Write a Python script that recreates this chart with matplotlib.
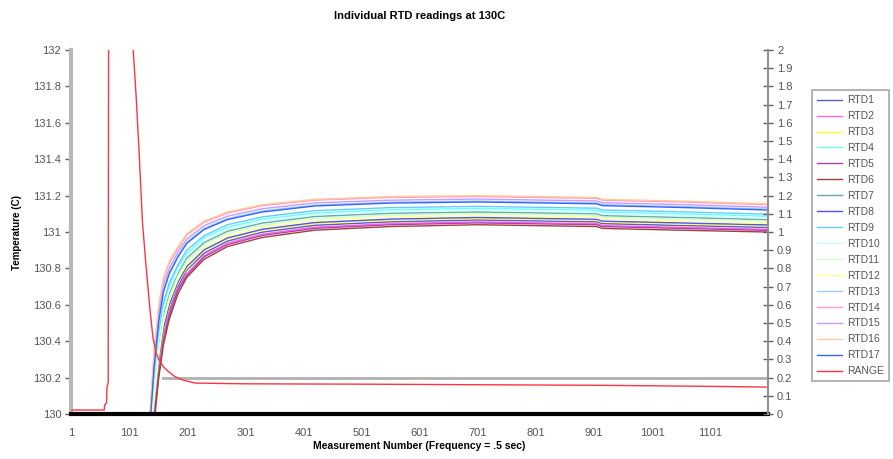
import matplotlib
matplotlib.use("Agg")
import matplotlib.pyplot as plt

plt.rcParams['font.family'] = ['Liberation Sans', 'DejaVu Sans']

# measurement numbers where readings were taken off the picture
n_rtd = [125, 137, 144, 152, 160, 170, 185, 200, 230, 270, 330, 420, 550, 700, 905, 915, 1050, 1200]

rtd1 = [129.24, 129.79, 130.01, 130.26, 130.44, 130.57, 130.70, 130.79, 130.884, 130.95, 130.999, 131.037, 131.056, 131.066, 131.056, 131.046, 131.036, 131.025]
rtd2 = [129.23, 129.78, 129.99, 130.24, 130.42, 130.55, 130.69, 130.77, 130.871, 130.939, 130.988, 131.027, 131.046, 131.056, 131.046, 131.036, 131.026, 131.015]
rtd3 = [129.26, 129.81, 130.04, 130.29, 130.46, 130.59, 130.72, 130.80, 130.896, 130.962, 131.01, 131.047, 131.066, 131.075, 131.065, 131.055, 131.045, 131.034]
rtd4 = [129.34, 129.89, 130.17, 130.42, 130.59, 130.70, 130.81, 130.88, 130.97, 131.026, 131.071, 131.105, 131.122, 131.13, 131.12, 131.11, 131.10, 131.087]
rtd5 = [129.22, 129.77, 129.97, 130.22, 130.40, 130.54, 130.68, 130.76, 130.863, 130.931, 130.981, 131.02, 131.04, 131.05, 131.04, 131.03, 131.02, 131.009]
rtd6 = [129.20, 129.75, 129.95, 130.20, 130.38, 130.52, 130.66, 130.75, 130.85, 130.92, 130.97, 131.01, 131.03, 131.04, 131.03, 131.02, 131.01, 131.00]
rtd7 = [129.31, 129.86, 130.13, 130.38, 130.54, 130.66, 130.77, 130.856, 130.942, 131.004, 131.049, 131.085, 131.103, 131.11, 131.10, 131.09, 131.08, 131.068]
rtd8 = [129.26, 129.81, 130.05, 130.30, 130.47, 130.60, 130.725, 130.81, 130.902, 130.967, 131.015, 131.052, 131.071, 131.08, 131.07, 131.06, 131.05, 131.039]
rtd9 = [129.36, 129.91, 130.20, 130.45, 130.61, 130.72, 130.82, 130.90, 130.98, 131.04, 131.083, 131.117, 131.134, 131.141, 131.131, 131.121, 131.111, 131.098]
rtd10 = [129.33, 129.88, 130.15, 130.40, 130.57, 130.68, 130.79, 130.87, 130.955, 131.015, 131.06, 131.095, 131.112, 131.12, 131.11, 131.10, 131.09, 131.077]
rtd11 = [129.30, 129.85, 130.10, 130.35, 130.52, 130.64, 130.76, 130.84, 130.93, 130.992, 131.038, 131.075, 131.093, 131.101, 131.091, 131.081, 131.071, 131.059]
rtd12 = [129.28, 129.83, 130.07, 130.32, 130.50, 130.62, 130.74, 130.824, 130.915, 130.979, 131.026, 131.063, 131.081, 131.09, 131.08, 131.07, 131.06, 131.048]
rtd13 = [129.40, 129.95, 130.27, 130.52, 130.68, 130.78, 130.87, 130.944, 131.02, 131.074, 131.116, 131.148, 131.164, 131.17, 131.16, 131.15, 131.14, 131.126]
rtd14 = [129.44, 129.99, 130.34, 130.59, 130.74, 130.83, 130.91, 130.983, 131.054, 131.104, 131.145, 131.175, 131.19, 131.195, 131.185, 131.175, 131.165, 131.15]
rtd15 = [129.42, 129.97, 130.30, 130.55, 130.71, 130.80, 130.89, 130.96, 131.035, 131.087, 131.128, 131.16, 131.175, 131.181, 131.171, 131.161, 131.151, 131.136]
rtd16 = [129.45, 130.00, 130.35, 130.60, 130.75, 130.84, 130.92, 130.99, 131.06, 131.11, 131.15, 131.18, 131.195, 131.20, 131.19, 131.18, 131.17, 131.155]
rtd17 = [129.40, 129.945, 130.26, 130.51, 130.67, 130.77, 130.863, 130.937, 131.014, 131.068, 131.11, 131.143, 131.159, 131.165, 131.155, 131.145, 131.135, 131.121]

rtd_series = [rtd1, rtd2, rtd3, rtd4, rtd5, rtd6, rtd7, rtd8, rtd9, rtd10,
              rtd11, rtd12, rtd13, rtd14, rtd15, rtd16, rtd17]
rtd_names = ["RTD%d" % i for i in range(1, 18)]
rtd_colors = ['#5b5bc0', '#ff66dd', '#ffff33', '#66ffff', '#b040b0', '#a04040',
              '#66aaaa', '#5050ff', '#66ccff', '#ccffff', '#ccffcc', '#ffff99',
              '#99ccff', '#ff99cc', '#cc99ff', '#ffcc99', '#3366ff']

# RANGE on the right axis (values above 2 run off the top)
n_range = [1, 58, 59, 62, 63, 65, 66, 100, 108, 113, 118, 124, 131, 137, 142, 147, 152,
           160, 168, 180, 195, 215, 300, 500, 700, 900, 1000, 1100, 1200]
range_vals = [0.022, 0.022, 0.05, 0.06, 0.15, 0.17, 3.0, 3.0, 2.0, 1.75, 1.45, 1.05, 0.78,
              0.57, 0.42, 0.34, 0.30, 0.26, 0.235, 0.205, 0.185, 0.17, 0.166, 0.164,
              0.161, 0.158, 0.155, 0.152, 0.148]

# grey limit line
n_limit = [159, 1200]
limit_vals = [0.2, 0.2]

x_ticks = [1, 101, 201, 301, 401, 501, 601, 701, 801, 901, 1001, 1101]
left_ticks = [130, 130.2, 130.4, 130.6, 130.8, 131, 131.2, 131.4, 131.6, 131.8, 132]
right_ticks = [i / 10 for i in range(21)]

fig = plt.figure(figsize=(8.93, 4.59), dpi=100)
ax = fig.add_axes([0.0795, 0.098, 0.7805, 0.793])
ax2 = ax.twinx()

handles = []
for vals, name, col in zip(rtd_series, rtd_names, rtd_colors):
    h, = ax.plot(n_rtd, vals, color=col, lw=1.0, label=name)
    handles.append(h)

ax2.plot(n_limit, limit_vals, color='#b0b0b0', lw=2.0)
h, = ax2.plot(n_range, range_vals, color='#ff3344', lw=1.0, label='RANGE')
handles.append(h)

ax.set_xlim(1, 1200)
ax.set_ylim(130, 132)
ax2.set_ylim(0, 2)

ax.set_xticks(x_ticks)
ax.set_xticklabels([str(v) for v in x_ticks])
ax.set_yticks(left_ticks)
ax.set_yticklabels(["%g" % v for v in left_ticks])
ax2.set_yticks(right_ticks)
ax2.set_yticklabels(["%g" % v for v in right_ticks])

for a in (ax, ax2):
    a.spines['top'].set_visible(False)
ax.spines['right'].set_visible(False)
ax2.spines['left'].set_visible(False)
ax2.spines['bottom'].set_visible(False)
ax.spines['left'].set_color('#b8b8b8')
ax.spines['left'].set_linewidth(3)
ax.spines['bottom'].set_color('black')
ax.spines['bottom'].set_linewidth(3)
ax2.spines['right'].set_color('#909090')
ax2.spines['right'].set_linewidth(1.5)

ax.tick_params(axis='y', direction='out', length=4, width=1, color='#606060',
               labelsize=8, labelcolor='#555555', pad=3)
ax.tick_params(axis='x', direction='out', length=0, labelsize=8,
               labelcolor='#555555', pad=10)
ax2.tick_params(axis='y', direction='inout', length=7, width=1, color='#606060',
                labelsize=8, labelcolor='#555555', pad=3)

ax.set_title("Individual RTD readings at 130C", fontsize=8, fontweight='bold', pad=22)
ax.set_xlabel("Measurement Number (Frequency = .5 sec)", fontsize=7.5,
              fontweight='bold', labelpad=2)
ax.set_ylabel("Temperature (C)", fontsize=7, fontweight='bold', labelpad=8)

leg = fig.legend(handles=handles, loc='upper left', bbox_to_anchor=(0.903, 0.815),
                 fontsize=7.5, frameon=True, fancybox=False, labelspacing=0.57,
                 handlelength=2.4, handletextpad=0.5, borderpad=0.5)
leg.get_frame().set_edgecolor('#909090')
leg.get_frame().set_linewidth(1.2)
for t in leg.get_texts():
    t.set_color('#555555')

fig.savefig("out.png", dpi=100)
